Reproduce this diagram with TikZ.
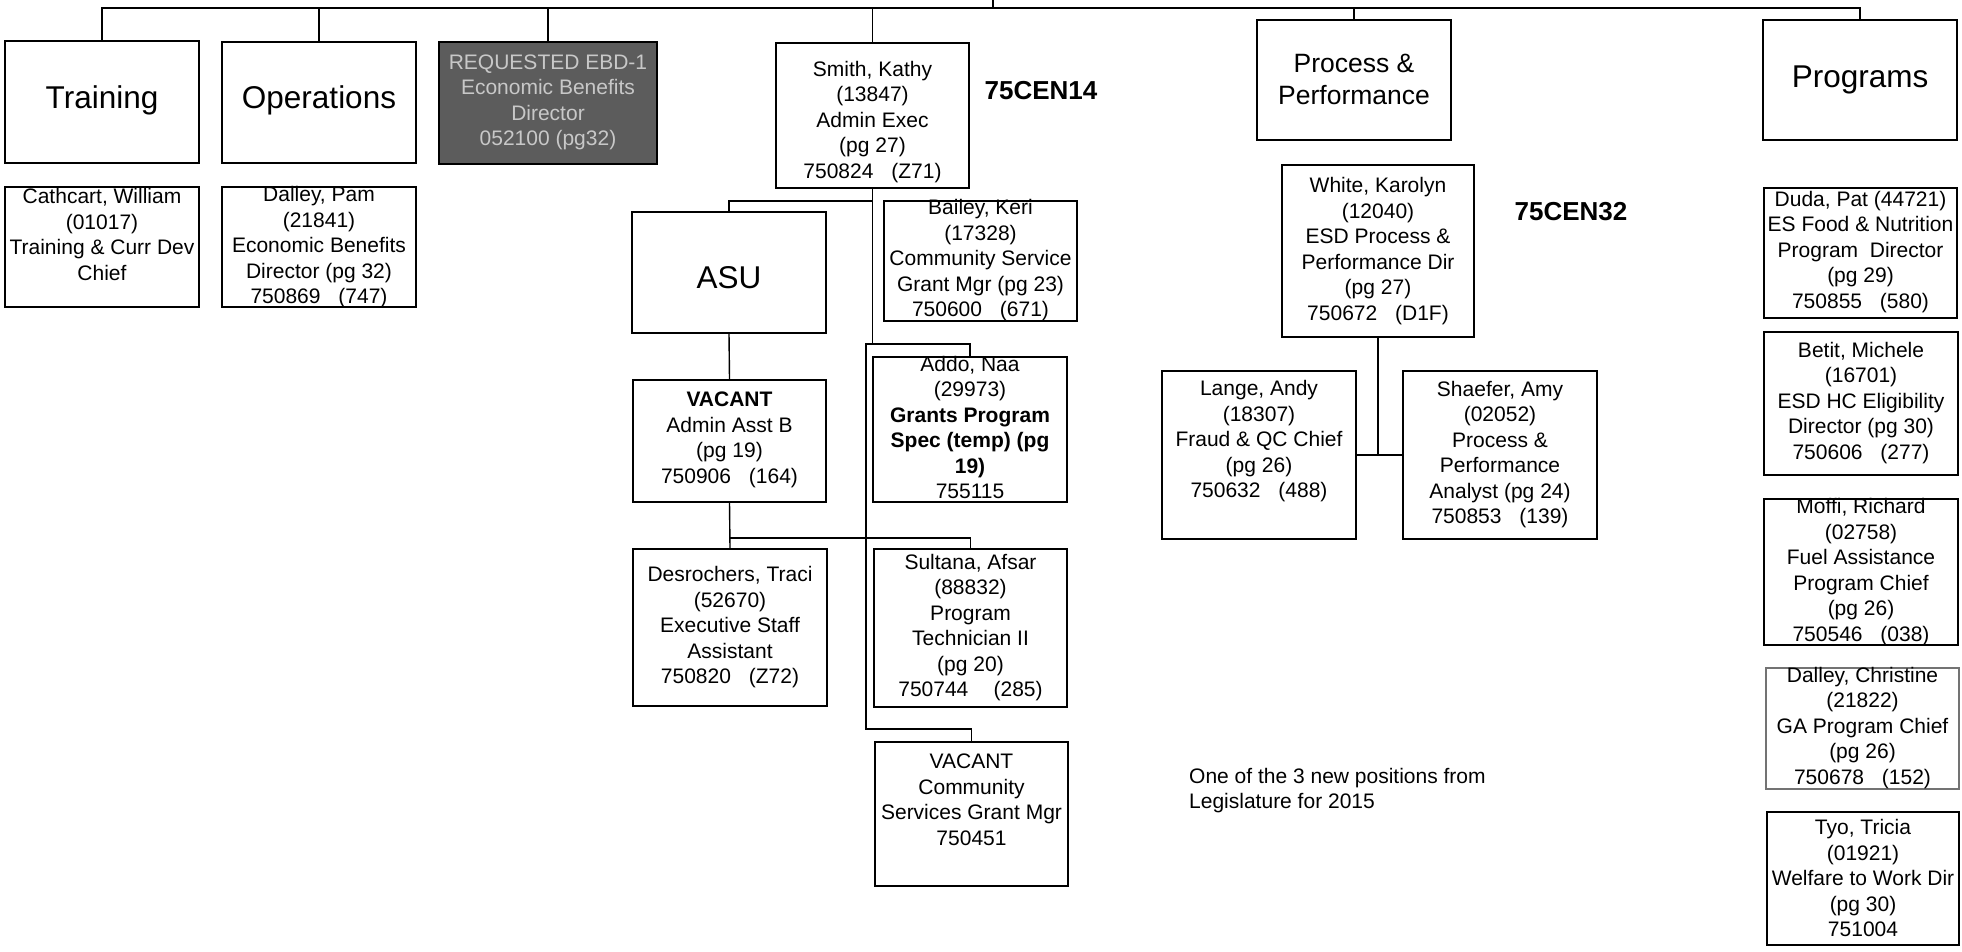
\documentclass[tikz,border=0pt]{standalone}
\usepackage{fontspec}
\setmainfont{Liberation Sans}
\definecolor{reqfill}{HTML}{5C5C5C}
\definecolor{reqtext}{HTML}{C8C8C8}
\tikzset{
  boxst/.style={draw=black, line width=1.4pt, rectangle, inner sep=0pt},
  txt/.style={inner sep=0pt, align=center, font=\fontsize{21}{25.5}\selectfont},
  bigtxt/.style={font=\fontsize{31.5}{36}\selectfont},
  midtxt/.style={font=\fontsize{26.5}{32}\selectfont},
  codetxt/.style={inner sep=0pt, font=\bfseries\fontsize{26}{30}\selectfont},
  conn/.style={draw=black, line width=1.4pt},
}
\newcommand\ogap{\hspace{0.85em}}
% #1 box style, #2 text style, #3 name, #4-#7 x1 y1 x2 y2, #8 text centre y, #9 text
\newcommand\obox[9]{%
  \pgfmathsetmacro\oBW{#6-#4}\pgfmathsetmacro\oBH{#7-#5}%
  \pgfmathsetmacro\oBX{(#4+#6)/2}\pgfmathsetmacro\oBY{(#5+#7)/2}%
  \node[boxst,#1,minimum width=\oBW pt,minimum height=\oBH pt] (#3) at (\oBX,\oBY) {};%
  \node[txt,#2] (#3-t) at (\oBX,#8) {#9};%
}
\begin{document}
\begin{tikzpicture}[x=1pt,y=-1pt]
\useasboundingbox (0,0) rectangle (1962,951);

\obox{}{bigtxt}{training}{5}{41}{199}{163}{100}{Training}
\obox{}{bigtxt}{operations}{222}{42}{416}{163}{100}{Operations}
\obox{fill=reqfill}{text=reqtext}{requested}{439}{42}{657}{164}{102.5}{REQUESTED EBD-1\\Economic Benefits\\Director\\052100 (pg32)}
\obox{}{}{cathcart}{5}{187}{199}{307}{234.5}{Cathcart, William\\(01017)\\Training \& Curr Dev\\Chief}
\obox{}{}{dalleyp}{222}{187}{416}{307}{247.5}{Dalley, Pam\\(21841)\\Economic Benefits\\Director (pg 32)\\750869\ogap(747)}

\obox{}{}{smith}{776}{43}{969}{188}{121.7}{Smith, Kathy\\(13847)\\Admin Exec\\(pg 27)\\750824\ogap(Z71)}
\node[codetxt] (cen14) at (1041,91) {75CEN14};
\obox{}{bigtxt}{asu}{632}{212}{826}{333}{278}{ASU}
\obox{}{}{bailey}{884}{201}{1077}{321}{260.5}{Bailey, Keri\\(17328)\\Community Service\\Grant Mgr (pg 23)\\750600\ogap(671)}
\obox{}{}{vacadm}{633}{380}{826}{502}{440}{\textbf{VACANT}\\Admin Asst B\\(pg 19)\\750906\ogap(164)}
\obox{}{}{addo}{873}{357}{1067}{502}{427.5}{Addo, Naa\\(29973)\\\textbf{Grants Program}\\\textbf{Spec (temp) (pg}\\\textbf{19)}\\755115}
\obox{}{}{desro}{633}{549}{827}{706}{627.5}{Desrochers, Traci\\(52670)\\Executive Staff\\Assistant\\750820\ogap(Z72)}
\obox{}{}{sultana}{874}{549}{1067}{707}{627.5}{Sultana, Afsar\\(88832)\\Program\\Technician II\\(pg 20)\\750744\hspace{1.2em}(285)}
\obox{}{}{vaccsgm}{875}{742}{1068}{886}{800}{VACANT\\Community\\Services Grant Mgr\\750451}

\obox{}{midtxt}{pp}{1257}{20}{1451}{140}{79}{Process \&\\Performance}
\obox{}{}{white}{1282}{165}{1474}{337}{251}{White, Karolyn\\(12040)\\ESD Process \&\\Performance Dir\\(pg 27)\\750672\ogap(D1F)}
\node[codetxt] (cen32) at (1571,212) {75CEN32};
\obox{}{}{lange}{1162}{371}{1356}{539}{441.5}{Lange, Andy\\(18307)\\Fraud \& QC Chief\\(pg 26)\\750632\ogap(488)}
\obox{}{}{shaefer}{1403}{371}{1597}{539}{454.5}{Shaefer, Amy\\(02052)\\Process \&\\Performance\\Analyst (pg 24)\\750853\ogap(139)}

\obox{}{bigtxt}{programs}{1763}{20}{1957}{140}{80}{Programs}
\obox{}{}{duda}{1764}{188}{1957}{318}{252}{Duda, Pat (44721)\\ES Food \& Nutrition\\Program\ \ Director\\(pg 29)\\750855\ogap(580)}
\obox{}{}{betit}{1764}{332}{1958}{475}{403}{Betit, Michele\\(16701)\\ESD HC Eligibility\\Director (pg 30)\\750606\ogap(277)}
\obox{}{}{moffi}{1764}{499}{1958}{645}{572}{Moffi, Richard\\(02758)\\Fuel Assistance\\Program Chief\\(pg 26)\\750546\ogap(038)}
\obox{draw=black!55}{}{dalleyc}{1766}{668}{1959}{789}{728}{Dalley, Christine\\(21822)\\GA Program Chief\\(pg 26)\\750678\ogap(152)}
\obox{}{}{tyo}{1767}{812}{1959}{945}{878}{Tyo, Tricia\\(01921)\\Welfare to Work Dir\\(pg 30)\\751004}

\node[txt, align=left, anchor=west] (note) at (1189,790.5) {One of the 3 new positions from\\Legislature for 2015};

% connectors
\coordinate (busR) at (1860,8);
\coordinate (parent) at (993,0);
\draw[conn] (training.north) |- (busR) -- (programs.north);
\foreach \n in {operations,requested,smith,pp} \draw[conn] (\n.north) -- (\n.north |- busR);
\draw[conn] (parent) -- (parent |- busR);

\coordinate (smithJ) at (872.5,201);
\coordinate (spineT) at (866,344);
\coordinate (spineB) at (866,729);
\draw[conn] (smith.south) -- (smith.south |- spineT);
\draw[conn] (asu.north) |- (smithJ);
\draw[conn] (addo.north) |- (spineT) -- (spineB) -| (vaccsgm.north);
\draw[conn] (asu.south) -- (vacadm.north);
\coordinate (vj) at (729.5,538);
\draw[conn] (vacadm.south) -- (desro.north);
\draw[conn] (vj) -| (sultana.north);

\draw[conn] (white.south) -- (white.south |- lange.east);
\draw[conn] (lange.east) -- (shaefer.west);
\end{tikzpicture}
\end{document}
